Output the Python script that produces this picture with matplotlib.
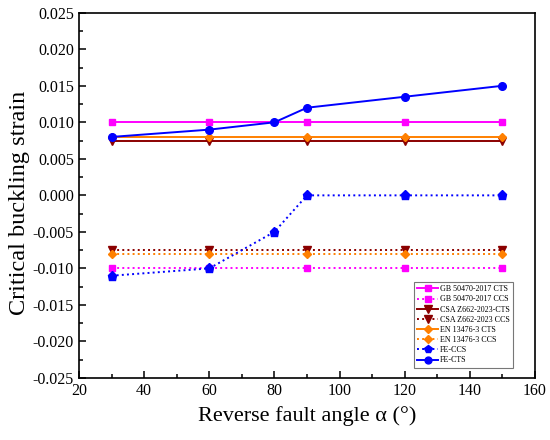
import matplotlib
matplotlib.use("Agg")
import matplotlib.pyplot as plt
from matplotlib.ticker import MultipleLocator, FuncFormatter

plt.rcParams['font.family'] = ['Liberation Serif', 'DejaVu Serif']
plt.rcParams['axes.unicode_minus'] = False

angles_code = [30, 60, 90, 120, 150]
angles_fe = [30, 60, 80, 90, 120, 150]

gb_cts = [0.010, 0.010, 0.010, 0.010, 0.010]
gb_ccs = [-0.010, -0.010, -0.010, -0.010, -0.010]
csa_cts = [0.0075, 0.0075, 0.0075, 0.0075, 0.0075]
csa_ccs = [-0.0075, -0.0075, -0.0075, -0.0075, -0.0075]
en_cts = [0.008, 0.008, 0.008, 0.008, 0.008]
en_ccs = [-0.008, -0.008, -0.008, -0.008, -0.008]
fe_ccs = [-0.011, -0.010, -0.005, 0.000, 0.000, 0.000]
fe_cts = [0.008, 0.009, 0.010, 0.012, 0.0135, 0.015]

fig = plt.figure(figsize=(5.5, 4.4), dpi=100)
ax = fig.add_axes([0.1436, 0.141, 0.9727 - 0.1436, 0.971 - 0.141])

magenta = '#FF00FF'
darkred = '#8B0000'
orange = '#FF8000'
blue = '#0000FF'
lw = 1.4
ms = 5

ax.plot(angles_code, gb_cts, '-', color=magenta, marker='s', ms=ms, lw=lw, label='GB 50470-2017 CTS')
ax.plot(angles_code, gb_ccs, ':', color=magenta, marker='s', ms=ms, lw=lw, label='GB 50470-2017 CCS')
ax.plot(angles_code, csa_cts, '-', color=darkred, marker='v', ms=ms + 1, lw=lw, label='CSA Z662-2023-CTS')
ax.plot(angles_code, csa_ccs, ':', color=darkred, marker='v', ms=ms + 1, lw=lw, label='CSA Z662-2023 CCS')
ax.plot(angles_code, en_cts, '-', color=orange, marker='D', ms=ms - 0.5, lw=lw, label='EN 13476-3 CTS')
ax.plot(angles_code, en_ccs, ':', color=orange, marker='D', ms=ms - 0.5, lw=lw, label='EN 13476-3 CCS')
ax.plot(angles_fe, fe_ccs, ':', color=blue, marker='p', ms=ms + 1.5, lw=lw, label='FE-CCS')
ax.plot(angles_fe, fe_cts, '-', color=blue, marker='o', ms=ms + 0.5, lw=lw, label='FE-CTS')

ax.set_xlim(20, 160)
ax.set_ylim(-0.025, 0.025)
ax.xaxis.set_major_locator(MultipleLocator(20))
ax.xaxis.set_minor_locator(MultipleLocator(10))
ax.yaxis.set_major_locator(MultipleLocator(0.005))
ax.yaxis.set_minor_locator(MultipleLocator(0.0025))


def yfmt(v, pos):
    v = round(v, 6)
    if abs(v) < 1e-9:
        v = 0.0
    return '%.3f' % v


ax.yaxis.set_major_formatter(FuncFormatter(yfmt))
ax.tick_params(which='both', direction='in', top=False, right=False, labelsize=11.5, width=1.1)
ax.tick_params(which='major', length=5)
ax.tick_params(which='minor', length=3)
for s in ax.spines.values():
    s.set_linewidth(1.2)

ax.set_xlabel('Reverse fault angle α (°)', fontsize=16, labelpad=5)
ax.set_ylabel('Critical buckling strain', fontsize=17.5, labelpad=2)
ax.yaxis.label.set_y(0.48)

leg = ax.legend(loc='lower right', bbox_to_anchor=(0.952, 0.027), borderaxespad=0,
                fontsize=5.8, frameon=True, fancybox=False, edgecolor='#555555',
                handlelength=2.6, labelspacing=0.27, handletextpad=0.15, borderpad=0.45,
                markerscale=0.9)
leg.get_frame().set_linewidth(0.8)

fig.savefig('out.png', dpi=100)
